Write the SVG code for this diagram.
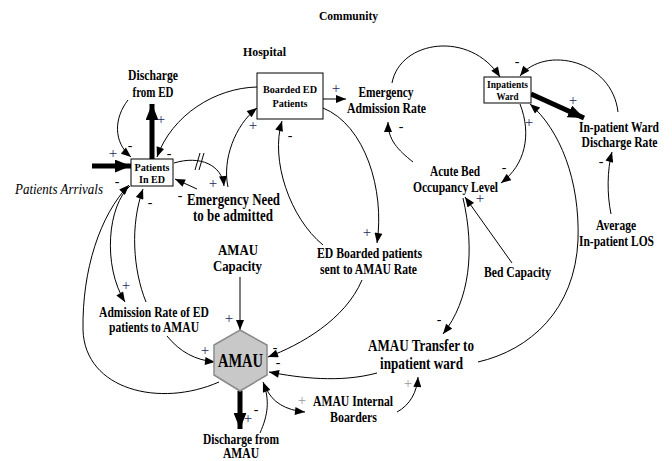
<svg xmlns="http://www.w3.org/2000/svg" width="672" height="461" viewBox="0 0 672 461">
<defs>
<marker id="ah" viewBox="0 0 10 8" refX="10" refY="4" markerWidth="11" markerHeight="8" orient="auto" markerUnits="userSpaceOnUse"><path d="M0,0 L10,4 L0,8 z" fill="#000"/></marker>
<marker id="ahBig" viewBox="0 0 10 8" refX="10" refY="4" markerWidth="16" markerHeight="13" orient="auto" markerUnits="userSpaceOnUse"><path d="M0,0 L10,4 L0,8 z" fill="#000"/></marker>
</defs>
<style>
text{font-family:"Liberation Serif","Times New Roman",serif;fill:#000}
.lb{font-weight:bold;font-size:14px;text-anchor:middle}
.big{font-weight:bold;font-size:16px;text-anchor:middle}
.box{font-weight:bold;font-size:11px;text-anchor:middle}
.hd{font-weight:bold;font-size:13px;text-anchor:middle}
.c{fill:none;stroke:#000;stroke-width:1;marker-end:url(#ah)}
.thick{fill:none;stroke:#000;stroke-width:5;marker-end:url(#ahBig)}
.p{font-size:15px;text-anchor:middle;fill:#1b2a63}
.m{font-size:14px;text-anchor:middle}
.g{font-size:15px;text-anchor:middle;fill:#999}
.nb{fill:#fff;stroke:#000;stroke-width:1}
</style>
<rect width="672" height="461" fill="#fff"/>
<text class="hd" x="348.5" y="20" textLength="59" lengthAdjust="spacingAndGlyphs">Community</text>
<text class="hd" x="264.5" y="56" textLength="43" lengthAdjust="spacingAndGlyphs">Hospital</text>

<g id="connectors">
<path class="thick" d="M92,166 L131,166"/>
<path class="thick" d="M152,159 L152,104"/>
<path class="c" d="M128,100 C114,118 113,142 131,157"/>
<path class="c" d="M257,87 C215,88 172,115 157,157"/>
<path class="c" d="M174,163 C200,155 222,165 224,186"/>
<path d="M195,170 L200,153 M199,170 L204,153" stroke="#000" stroke-width="1" fill="none"/>
<path class="c" d="M197,189 L175,179"/>
<path class="c" d="M228,187 C222,160 235,125 257,108"/>
<path class="c" d="M323,99 L346,99"/>
<path class="c" d="M323,108 C365,125 385,190 377,243"/>
<path class="c" d="M323,245 C290,218 270,160 282,121"/>
<path class="c" d="M362,280 C345,320 300,345 268,357"/>
<path class="c" d="M377,373 C340,383 300,378 269,372"/>
<path class="c" d="M240,277 L240,330"/>
<path class="c" d="M167,336 C180,352 195,360 215,362"/>
<path class="c" d="M130,186 C108,205 102,265 125,302"/>
<path class="c" d="M146,302 C133,270 130,225 143,189"/>
<path class="c" d="M219,382 C160,408 85,390 83,330 C82,270 100,215 129,185"/>
<path class="thick" d="M240,391 L240,429"/>
<path class="c" d="M260,433 C268,415 270,400 263,382"/>
<path class="c" d="M266,388 C272,402 285,410 305,412"/>
<path class="c" d="M397,412 C410,405 417,392 418,377"/>
<path class="c" d="M463,198 C475,250 470,300 443,334"/>
<path class="c" d="M478,362 C530,350 575,310 578,240 C580,180 560,130 530,104"/>
<path class="c" d="M520,104 C532,135 525,165 501,183"/>
<path class="c" d="M512,263 L465,197"/>
<path class="c" d="M413,162 C398,150 388,140 388,122"/>
<path class="c" d="M392,83 C400,40 470,30 500,77"/>
<path class="thick" d="M531,94 L584,118"/>
<path class="c" d="M618,112 C612,60 545,45 520,76"/>
<path class="c" d="M611,214 C607,195 607,170 612,152"/>
</g>

<g id="signs">
<text class="p" x="161" y="124">+</text>
<text class="m" x="130" y="150">-</text>
<text class="p" x="113" y="158">+</text>
<text class="m" x="117" y="186">-</text>
<text class="m" x="169" y="158">-</text>
<text class="m" x="150" y="207">-</text>
<text class="p" x="213" y="188">+</text>
<text class="m" x="180" y="200">-</text>
<text class="p" x="253" y="130">+</text>
<text class="p" x="336" y="93">+</text>
<text class="m" x="290" y="140">-</text>
<text class="p" x="367" y="237">+</text>
<text class="m" x="401" y="131">-</text>
<text class="m" x="517" y="66">-</text>
<text class="p" x="573" y="105">+</text>
<text class="p" x="529" y="127">+</text>
<text class="m" x="504" y="172">-</text>
<text class="p" x="480" y="203">+</text>
<text class="m" x="601" y="166">-</text>
<text class="p" x="126" y="290">+</text>
<text class="p" x="229" y="323">+</text>
<text class="p" x="205" y="355">+</text>
<text class="m" x="275" y="352">-</text>
<text class="m" x="278" y="367">-</text>
<text class="m" x="439" y="324">-</text>
<text class="g" x="408" y="388">+</text>
<text class="g" x="302" y="405">+</text>
<text class="m" x="256" y="414">-</text>
<text class="p" x="248" y="423">+</text>
</g>

<g id="patients-in-ed">
<rect class="nb" x="131" y="159" width="42" height="27"/>
<text class="box" x="152" y="171" textLength="35" lengthAdjust="spacingAndGlyphs">Patients</text>
<text class="box" x="152" y="183" textLength="26" lengthAdjust="spacingAndGlyphs">In ED</text>
</g>
<g id="boarded-ed">
<rect class="nb" x="257" y="73" width="66" height="46"/>
<text class="box" x="290" y="93" textLength="54" lengthAdjust="spacingAndGlyphs">Boarded ED</text>
<text class="box" x="290" y="107" textLength="35" lengthAdjust="spacingAndGlyphs">Patients</text>
</g>
<g id="inpatients-ward">
<rect class="nb" x="484" y="77" width="47" height="26"/>
<text class="box" x="507.5" y="88" font-size="10" textLength="41" lengthAdjust="spacingAndGlyphs">Inpatients</text>
<text class="box" x="507.5" y="100" font-size="10" textLength="22" lengthAdjust="spacingAndGlyphs">Ward</text>
</g>
<g id="amau">
<polygon points="240,330 267,345 267,375 240,391 214,375 214,345" fill="#c8c8c8" stroke="#8a8a8a" stroke-width="1.5"/>
<text x="240.5" y="367" font-weight="bold" font-size="19" text-anchor="middle" textLength="45" lengthAdjust="spacingAndGlyphs">AMAU</text>
</g>
<g id="discharge-ed">
<text class="lb" x="153" y="80" textLength="50" lengthAdjust="spacingAndGlyphs">Discharge</text>
<text class="lb" x="153" y="97" textLength="41" lengthAdjust="spacingAndGlyphs">from ED</text>
</g>
<g id="patients-arrivals">
<text x="15" y="194" font-style="italic" font-size="14" textLength="88" lengthAdjust="spacingAndGlyphs">Patients Arrivals</text>
</g>
<g id="emergency-admission-rate">
<text class="lb" x="386" y="97" textLength="55" lengthAdjust="spacingAndGlyphs">Emergency</text>
<text class="lb" x="386.5" y="113" textLength="79" lengthAdjust="spacingAndGlyphs">Admission Rate</text>
</g>
<g id="inpatient-discharge-rate">
<text class="lb" x="619" y="132" textLength="80" lengthAdjust="spacingAndGlyphs">In-patient Ward</text>
<text class="lb" x="619.5" y="147" textLength="76" lengthAdjust="spacingAndGlyphs">Discharge Rate</text>
</g>
<g id="acute-bed">
<text class="lb" x="455" y="176" textLength="50" lengthAdjust="spacingAndGlyphs">Acute Bed</text>
<text class="lb" x="455.5" y="192" textLength="85" lengthAdjust="spacingAndGlyphs">Occupancy Level</text>
</g>
<g id="emergency-need">
<text class="big" x="233.5" y="205" textLength="93" lengthAdjust="spacingAndGlyphs">Emergency Need</text>
<text class="big" x="233" y="221" textLength="80" lengthAdjust="spacingAndGlyphs">to be admitted</text>
</g>
<g id="amau-capacity">
<text class="lb" x="238" y="255" textLength="40" lengthAdjust="spacingAndGlyphs">AMAU</text>
<text class="lb" x="237.5" y="271" textLength="49" lengthAdjust="spacingAndGlyphs">Capacity</text>
</g>
<g id="ed-boarded-rate">
<text class="lb" x="369.5" y="258" textLength="105" lengthAdjust="spacingAndGlyphs">ED Boarded patients</text>
<text class="lb" x="368.5" y="274" textLength="97" lengthAdjust="spacingAndGlyphs">sent to AMAU Rate</text>
</g>
<g id="bed-capacity">
<text class="lb" x="517.5" y="277" textLength="67" lengthAdjust="spacingAndGlyphs">Bed Capacity</text>
</g>
<g id="average-los">
<text class="lb" x="616" y="230" textLength="40" lengthAdjust="spacingAndGlyphs">Average</text>
<text class="lb" x="616.5" y="246" textLength="75" lengthAdjust="spacingAndGlyphs">In-patient LOS</text>
</g>
<g id="admission-rate-amau">
<text class="lb" x="154" y="317" textLength="110" lengthAdjust="spacingAndGlyphs">Admission Rate of ED</text>
<text class="lb" x="154" y="332" textLength="90" lengthAdjust="spacingAndGlyphs">patients to AMAU</text>
</g>
<g id="amau-transfer">
<text class="big" x="421" y="351" textLength="106" lengthAdjust="spacingAndGlyphs">AMAU Transfer to</text>
<text class="big" x="421.5" y="369" textLength="83" lengthAdjust="spacingAndGlyphs">inpatient ward</text>
</g>
<g id="amau-internal-boarders">
<text class="lb" x="353" y="406" textLength="80" lengthAdjust="spacingAndGlyphs">AMAU Internal</text>
<text class="lb" x="353.5" y="422" textLength="47" lengthAdjust="spacingAndGlyphs">Boarders</text>
</g>
<g id="discharge-amau">
<text class="lb" x="241" y="444" textLength="76" lengthAdjust="spacingAndGlyphs">Discharge from</text>
<text class="lb" x="241" y="458" textLength="36" lengthAdjust="spacingAndGlyphs">AMAU</text>
</g>
</svg>
